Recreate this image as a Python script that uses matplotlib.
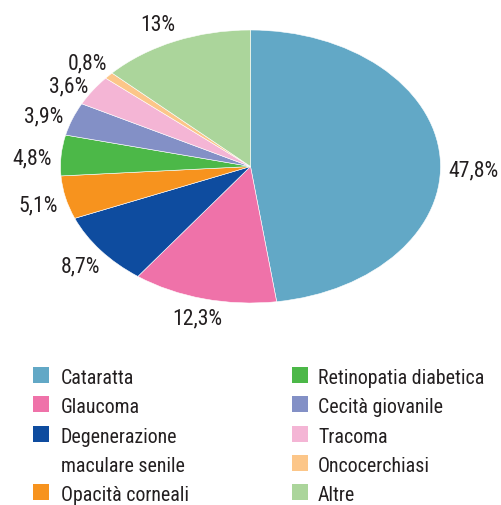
import matplotlib
matplotlib.use("Agg")
import matplotlib.pyplot as plt
from matplotlib.patches import Rectangle
from matplotlib import font_manager as fm
from matplotlib.textpath import TextPath

categories = ["Cataratta", "Glaucoma", "Degenerazione\nmaculare senile", "Opacità corneali",
              "Retinopatia diabetica", "Cecità giovanile", "Tracoma", "Oncocerchiasi", "Altre"]
values = [47.8, 12.3, 8.7, 5.1, 4.8, 3.9, 3.6, 0.8, 13.0]
value_labels = ["47,8%", "12,3%", "8,7%", "5,1%", "4,8%", "3,9%", "3,6%", "0,8%", "13%"]
colors = ["#62a8c6", "#ef72a9", "#0e4c9f", "#f7931e", "#4cb848",
          "#8390c6", "#f4b5d5", "#fcc689", "#abd59b"]

# label positions (pie data coordinates)
label_xy = [(1.174, -0.03), (-0.28, -1.12), (-0.895, -0.735), (-1.116, -0.29),
            (-1.147, 0.058), (-1.089, 0.365), (-0.958, 0.584), (-0.858, 0.752), (-0.489, 1.03)]

TXT = "#231f20"


# ---- choose the narrowest suitable installed font (reference uses a condensed sans) ----
def pick_font():
    entries = fm.fontManager.ttflist
    cands = [("Liberation Sans Narrow", "condensed"), ("Roboto Condensed", "condensed"),
             ("DejaVu Sans", "condensed"), ("Open Sans Condensed", "condensed"),
             ("Noto Sans", "condensed"), ("Open Sans", "condensed"), ("Roboto", "condensed"),
             ("Noto Sans", "semi-condensed"), ("Open Sans", "semi-condensed"),
             ("Roboto", "normal"), ("Liberation Sans", "normal"), ("DejaVu Sans", "normal")]
    for name, st in cands:
        for f in entries:
            if f.name == name and str(f.stretch) == st and f.style == "normal" \
                    and f.weight in (400, "normal", "regular", "book"):
                return fm.FontProperties(fname=f.fname)
    return fm.FontProperties(family="DejaVu Sans")


FP = pick_font()


def fit_size(sample, target_w_px, target_cap_px):
    cap = TextPath((0, 0), "H", size=1, prop=FP).get_extents().height * 100 / 72
    wid = TextPath((0, 0), sample, size=1, prop=FP).get_extents().width * 100 / 72
    return min(target_cap_px / cap, target_w_px / wid)


leg_size = fit_size("Retinopatia diabetica", 163, 14.3)
lab_size = fit_size("47,8%", 51, 15.5)

W, H = 501, 505
fig = plt.figure(figsize=(W / 100, H / 100), dpi=100)

cx, cy, rx, ry = 250.5, 166.5, 190, 136.5
ax = fig.add_axes([(cx - rx) / W, (H - cy - ry) / H, 2 * rx / W, 2 * ry / H])
ax.pie(values, colors=colors, startangle=90, counterclock=False, radius=1,
       wedgeprops=dict(edgecolor="white", linewidth=0.4))
ax.set_aspect("auto")
ax.set_xlim(-1, 1)
ax.set_ylim(-1, 1)
ax.axis("off")

for lab, (x, y) in zip(value_labels, label_xy):
    ax.text(x, y, lab, ha="center", va="center", fontproperties=FP, fontsize=lab_size,
            color=TXT, clip_on=False)

# legend (manual, two columns)
col_items = [categories[:4], categories[4:]]
col_colors = [colors[:4], colors[4:]]
col_sq_x = [33, 292]
col_tx_x = [61, 318]
row_h = 29.3
sq_top0 = 367
base0 = 384
for c in range(2):
    row = 0
    for name, col in zip(col_items[c], col_colors[c]):
        top = sq_top0 + row * row_h
        fig.patches.append(Rectangle((col_sq_x[c] / W, (H - top - 16) / H), 16 / W, 16 / H,
                                     transform=fig.transFigure, facecolor=col,
                                     edgecolor="none"))
        for k, line in enumerate(name.split("\n")):
            fig.text(col_tx_x[c] / W, (H - base0 - (row + k) * row_h) / H, line,
                     ha="left", va="baseline", fontproperties=FP, fontsize=leg_size,
                     color=TXT)
        row += len(name.split("\n"))

fig.savefig("out.png", dpi=100)
